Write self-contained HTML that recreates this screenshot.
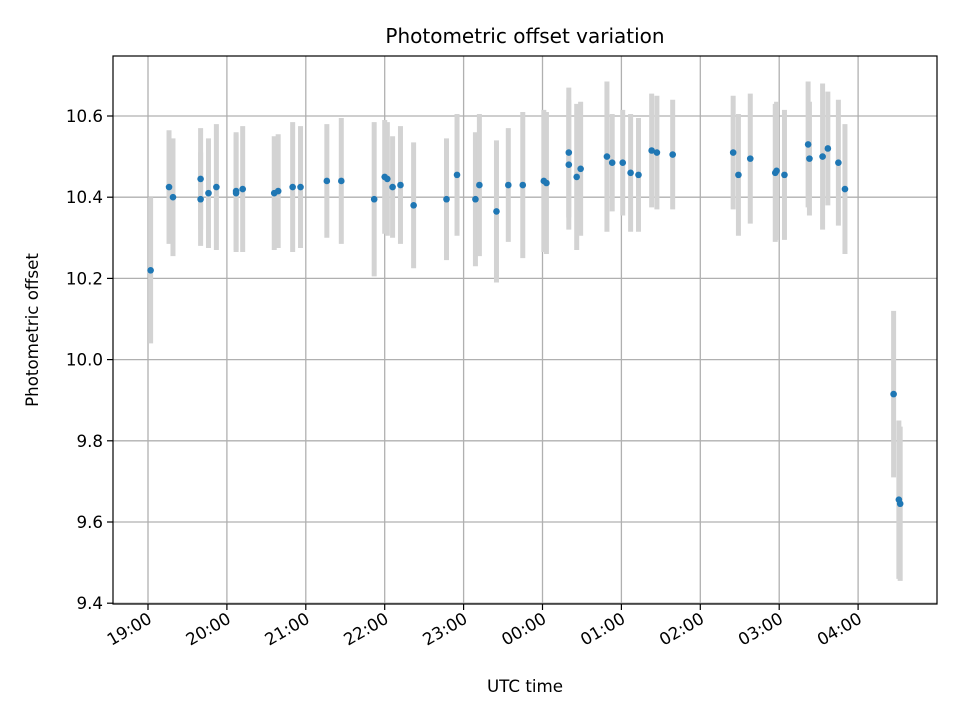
<!DOCTYPE html>
<html><head><meta charset="utf-8"><style>
body{margin:0;background:#fff;}
svg{display:block;font-family:"DejaVu Sans","Liberation Sans",sans-serif;}
</style></head><body>
<svg id="chart" width="960" height="720">
<rect x="0" y="0" width="960" height="720" fill="#fff"/>
<g id="grid"></g><g id="bars"></g><g id="pts"></g><g id="axes"></g>
<text x="525" y="43" text-anchor="middle" font-size="20">Photometric offset variation</text>
<text x="525" y="692" text-anchor="middle" font-size="16.7">UTC time</text>
<text transform="translate(38,330) rotate(-90)" text-anchor="middle" font-size="16.7">Photometric offset</text>
</svg>
<script>
// minutes since 19:00 UTC
const times=[2,16,19,40,40,46,52,67,67,72,96,99,110,116,136,147,172,180,182,186,192,202,227,235,249,252,265,274,285,301,303,320,320,326,329,349,353,361,367,373,383,387,399,445,449,458,477,478,484,502,503,513,517,525,530,567,571,572];
const values=[10.22,10.425,10.40,10.395,10.445,10.41,10.425,10.415,10.41,10.42,10.41,10.415,10.425,10.425,10.44,10.44,10.395,10.45,10.445,10.425,10.43,10.38,10.395,10.455,10.395,10.43,10.365,10.43,10.43,10.44,10.435,10.51,10.48,10.45,10.47,10.5,10.485,10.485,10.46,10.455,10.515,10.51,10.505,10.51,10.455,10.495,10.46,10.465,10.455,10.53,10.495,10.5,10.52,10.485,10.42,9.915,9.655,9.645];
const errors=[.18,.14,.145,.115,.125,.135,.155,.145,.145,.155,.14,.14,.16,.15,.14,.155,.19,.14,.14,.125,.145,.155,.15,.15,.165,.175,.175,.14,.18,.175,.175,.16,.16,.18,.165,.185,.12,.13,.145,.14,.14,.14,.135,.14,.15,.16,.17,.17,.16,.155,.14,.18,.14,.155,.16,.205,.195,.19];
const yTicks=[9.4,9.6,9.8,10.0,10.2,10.4,10.6];
const xTickMin=[0,60,120,180,240,300,360,420,480,540];
const xTickLabels=["19:00","20:00","21:00","22:00","23:00","00:00","01:00","02:00","03:00","04:00"];
const L=113,R=937,T=56,B=604;
const X=m=>148+m*78.9/60;
const Y=v=>116+(10.6-v)*406;
const NS="http://www.w3.org/2000/svg";
function mk(p,tag,a){const e=document.createElementNS(NS,tag);for(const k in a)e.setAttribute(k,a[k]);p.appendChild(e);return e;}
const grid=document.getElementById('grid'),axes=document.getElementById('axes'),bars=document.getElementById('bars'),pts=document.getElementById('pts');
yTicks.forEach(v=>{
 const y=Y(v);
 const g=mk(grid,'line',{x1:L,x2:R,y1:y,y2:y,stroke:'#b0b0b0','stroke-width':1.3});
 
 
 const t=mk(axes,'line',{x1:L-6,x2:L,y1:y,y2:y,stroke:'#000','stroke-width':1.2});
 
 
 const tx=mk(axes,'text',{x:L-10,y:y+6,'text-anchor':'end','font-size':16.7});
 tx.textContent=v.toFixed(1);
 
 
});
xTickMin.forEach((m,i)=>{
 const x=X(m);
 const g=mk(grid,'line',{x1:x,x2:x,y1:T,y2:B,stroke:'#b0b0b0','stroke-width':1.3});
 
 
 const t=mk(axes,'line',{x1:x,x2:x,y1:B,y2:B+6,stroke:'#000','stroke-width':1.2});
 
 
 const tx=mk(axes,'text',{transform:`translate(${x+5},${B+18}) rotate(-30)`,'text-anchor':'end','font-size':16.7});
 tx.textContent=xTickLabels[i];
 
 
});
times.forEach((m,i)=>{
 const x=X(m);
 const b=mk(bars,'line',{x1:x,x2:x,y1:Y(values[i]+errors[i]),y2:Y(values[i]-errors[i]),stroke:'#d3d3d3','stroke-width':5});
 
 
 const c=mk(pts,'circle',{cx:x,cy:Y(values[i]),r:3.3,fill:'#1f77b4'});
 
 
});
const fr=mk(axes,'rect',{x:L,y:T,width:R-L,height:B-T,fill:'none',stroke:'#000','stroke-width':1.2});


</script>
</body></html>
